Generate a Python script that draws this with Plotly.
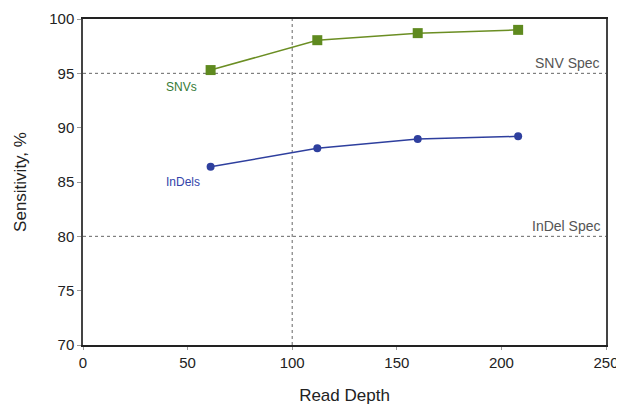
import plotly.graph_objects as go

read_depth = [61, 112, 160, 208]
snv_sens = [95.3, 98.05, 98.7, 99.0]
indel_sens = [86.4, 88.1, 88.95, 89.2]
x_ticks = [0, 50, 100, 150, 200, 250]
y_ticks = [70, 75, 80, 85, 90, 95, 100]
snv_spec = 95
indel_spec = 80
depth_ref = 100

font = "Liberation Sans, Arial, sans-serif"
green = "#6b8e23"
green_marker = "#5f8a1f"
blue = "#2e3f9e"

fig = go.Figure()
fig.add_trace(go.Scatter(x=read_depth, y=snv_sens, mode="lines+markers",
                         line=dict(color=green, width=1.5),
                         marker=dict(symbol="square", size=10, color=green_marker),
                         showlegend=False, cliponaxis=False))
fig.add_trace(go.Scatter(x=read_depth, y=indel_sens, mode="lines+markers",
                         line=dict(color=blue, width=1.5),
                         marker=dict(symbol="circle", size=8, color=blue),
                         showlegend=False, cliponaxis=False))

dash = dict(color="#666666", width=1, dash="3px,3px")
fig.add_shape(type="line", xref="x", yref="y", x0=0, x1=250, y0=snv_spec, y1=snv_spec, line=dash, layer="below")
fig.add_shape(type="line", xref="x", yref="y", x0=0, x1=250, y0=indel_spec, y1=indel_spec, line=dash, layer="below")
fig.add_shape(type="line", xref="x", yref="y", x0=depth_ref, x1=depth_ref, y0=70, y1=100, line=dash, layer="below")

fig.add_annotation(x=248, y=snv_spec, text="SNV Spec", showarrow=False, xanchor="right", yanchor="bottom",
                   font=dict(family=font, size=14, color="#555555"), yshift=0)
fig.add_annotation(x=248, y=indel_spec, text="InDel Spec", showarrow=False, xanchor="right", yanchor="bottom",
                   font=dict(family=font, size=14, color="#555555"), yshift=0)
fig.add_annotation(x=47, y=93.7, text="SNVs", showarrow=False,
                   font=dict(family=font, size=12, color="#357a35"))
fig.add_annotation(x=48, y=85.0, text="InDels", showarrow=False,
                   font=dict(family=font, size=12, color="#3344aa"))

fig.update_layout(
    width=616, height=397,
    margin=dict(l=75, r=18, t=11, b=60, autoexpand=False),
    paper_bgcolor="white", plot_bgcolor="white",
    font=dict(family=font, size=15, color="#222222"),
)
fig.update_xaxes(range=[0, 250], tickvals=x_ticks, showgrid=False, zeroline=False,
                 showline=True, linecolor="#222222", linewidth=1.5, mirror=True,
                 ticks="outside", ticklen=3, tickcolor="#999999", automargin=False,
                 title=dict(text="Read Depth", font=dict(size=17), standoff=20))
fig.update_yaxes(range=[70, 100], tickvals=y_ticks, showgrid=False, zeroline=False,
                 showline=True, linecolor="#444444", linewidth=1.5, mirror=True,
                 ticks="outside", ticklen=4, tickcolor="#999999", automargin=False,
                 title=dict(text="Sensitivity, %", font=dict(size=17), standoff=18))

fig.write_html("out.html")
